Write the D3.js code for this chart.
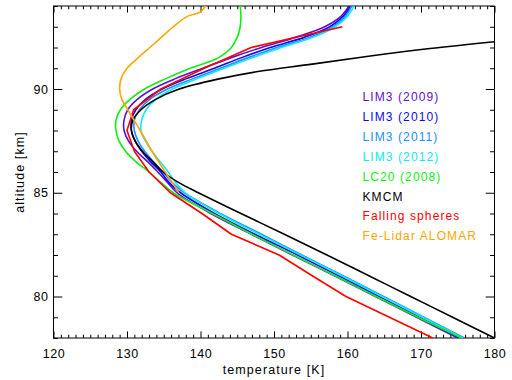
<!DOCTYPE html>
<html>
<head>
<meta charset="utf-8">
<script src="https://cdn.jsdelivr.net/npm/d3@7"></script>
<style>
  body { margin: 0; background: #fff; }
  text { font-family: "Liberation Sans", Arial, sans-serif; }
</style>
</head>
<body>
<div id="body"></div>
<script>
// [altitude km, temperature K]
const lim3_2009 = [[78, 175.0], [79, 169.4], [80, 163.8], [81, 158.2], [82, 152.5], [83, 146.9], [84, 141.4], [85, 136.8], [85.5, 135.5], [86, 134.2], [86.5, 132.8], [87, 131.3], [87.5, 130.2], [88, 129.6], [88.5, 129.6], [89, 130.1], [89.5, 131.4], [90, 133.5], [90.5, 136.6], [91, 140.3], [91.5, 144.1], [92, 148.3], [92.5, 153.0], [93, 156.9], [93.5, 159.1], [94, 160.2]];
const lim3_2010 = [[78, 175.3], [79, 169.8], [80, 164.3], [81, 158.8], [82, 153.2], [83, 147.4], [84, 141.9], [85, 137.3], [85.5, 135.7], [86, 134.6], [86.5, 133.2], [87, 132.0], [87.5, 131.1], [88, 130.6], [88.5, 130.6], [89, 131.2], [89.5, 132.5], [90, 134.8], [90.5, 138.1], [91, 141.9], [91.5, 145.5], [92, 149.5], [92.5, 154.2], [93, 157.6], [93.5, 159.4], [94, 160.4]];
const lim3_2011 = [[78, 175.9], [79, 170.4], [80, 164.9], [81, 159.4], [82, 153.8], [83, 148.3], [84, 142.7], [85, 137.8], [85.5, 136.1], [86, 134.9], [86.5, 133.6], [87, 132.4], [87.5, 131.5], [88, 131.0], [88.5, 131.0], [89, 131.7], [89.5, 133.1], [90, 135.5], [90.5, 139.0], [91, 142.7], [91.5, 146.4], [92, 150.4], [92.5, 154.9], [93, 158.0], [93.5, 159.7], [94, 160.6]];
const lim3_2012 = [[78, 175.7], [79, 170.2], [80, 164.7], [81, 159.2], [82, 153.6], [83, 148.0], [84, 142.5], [85, 137.9], [85.5, 136.6], [86, 135.6], [86.5, 134.5], [87, 133.4], [87.5, 132.5], [88, 131.9], [88.5, 132.0], [89, 132.6], [89.5, 133.9], [90, 136.2], [90.5, 139.6], [91, 143.2], [91.5, 147.0], [92, 151.0], [92.5, 155.4], [93, 158.3], [93.5, 160.0], [94, 160.9]];
const lc20_2008 = [[78, 175.5], [79, 169.6], [80, 163.9], [81, 158.3], [82, 152.6], [83, 147.0], [84, 141.6], [85, 136.3], [85.5, 134.6], [86, 133.0], [86.5, 131.2], [87, 129.8], [87.5, 128.9], [88, 128.5], [88.5, 128.5], [89, 129.1], [89.5, 130.4], [90, 132.4], [90.5, 135.3], [91, 138.6], [91.5, 142.4], [92, 144.2], [92.5, 145.0], [93, 145.4], [93.5, 145.5], [94, 145.4]];
const kmcm = [[78, 180.0], [79, 174.3], [80, 168.6], [81, 162.9], [82, 157.2], [83, 151.4], [84, 145.5], [85, 139.7], [85.5, 137.0], [86, 134.9], [86.5, 133.5], [87, 132.1], [87.5, 131.1], [88, 130.6], [88.5, 130.8], [89, 131.9], [89.5, 133.9], [90, 137.1], [90.5, 142.7], [90.83, 147.6], [91.2, 155.2], [91.59, 163.1], [91.95, 171.2], [92.28, 180.0]];
const fallingSpheres = [[78, 171.6], [79, 165.7], [80, 159.8], [81, 155.2], [82, 150.7], [83, 144.2], [84, 140.2], [85, 135.9], [86, 133.0], [87, 131.0], [88, 130.0], [89, 130.9], [90, 134.6], [91, 140.5], [92, 146.9], [93, 159.3]];
const feLidar = [[85.05, 137.0], [86, 135.2], [87, 133.4], [88, 131.8], [89, 130.1], [89.5, 129.3], [90, 129.0], [90.5, 129.2], [91, 130.0], [91.5, 131.5], [92, 133.1], [92.5, 134.7], [93, 136.3], [93.5, 138.2], [93.72, 140.0], [94.06, 140.8]];

const legendLabels = ['LIM3 (2009)', 'LIM3 (2010)', 'LIM3 (2011)', 'LIM3 (2012)', 'LC20 (2008)', 'KMCM', 'Falling spheres', 'Fe-Lidar ALOMAR'];
const lineColors = ['#5f0fd0', '#0a0af0', '#2090ff', '#10e8ff', '#10ee10', '#000000', '#ff0000', '#ffa500'];
const xTicks = [120, 130, 140, 150, 160, 170, 180];
const yTicks = [80, 85, 90];

const width = 512;
const height = 380;

var x = d3.scaleLinear().domain([120, 180]).range([53.5, 494.5]);
var y = d3.scaleLinear().domain([78, 94]).range([338, 6]);

function makeChart () {
  d3.select('#body')
    .append('svg')
    .attr('width', width)
    .attr('height', height)
    .style('background', '#fff')
    .append('g')
    .attr('id', 'chart');

  d3.select('#chart').append('clipPath')
    .attr('id', 'plotclip')
    .append('rect')
    .attr('x', x(120)).attr('y', y(94))
    .attr('width', x(180) - x(120)).attr('height', y(78) - y(94));
}

function makeAxis () {
  var chart = d3.select('#chart');
  var xMinor = d3.range(121, 180).filter(function(d){ return d % 10 !== 0; });
  var yMinor = d3.range(78, 95).filter(function(d){ return d % 5 !== 0; });

  function style (g) {
    g.select('.domain').remove();
    g.selectAll('line').attr('stroke', '#000').attr('stroke-width', 1);
    g.selectAll('text')
      .attr('fill', '#000')
      .style('font-family', '"Liberation Sans", Arial, sans-serif')
      .style('font-size', '12.5px')
      .style('letter-spacing', '0.6px');
  }

  chart.append('g').attr('transform', 'translate(0,338)')
    .call(d3.axisBottom(x).tickValues(xTicks).tickSize(-6.6).tickPadding(11).tickFormat(d3.format('d'))).call(style);
  chart.append('g').attr('transform', 'translate(0,338)')
    .call(d3.axisBottom(x).tickValues(xMinor).tickSize(-3.3).tickFormat('')).call(style);
  chart.append('g').attr('transform', 'translate(0,6)')
    .call(d3.axisTop(x).tickValues(xTicks).tickSize(-6.6).tickFormat('')).call(style);
  chart.append('g').attr('transform', 'translate(0,6)')
    .call(d3.axisTop(x).tickValues(xMinor).tickSize(-3.3).tickFormat('')).call(style);

  chart.append('g').attr('transform', 'translate(53.5,0)')
    .call(d3.axisLeft(y).tickValues(yTicks).tickSize(-8.8).tickPadding(5).tickFormat(d3.format('d'))).call(style);
  chart.append('g').attr('transform', 'translate(53.5,0)')
    .call(d3.axisLeft(y).tickValues(yMinor).tickSize(-4.4).tickFormat('')).call(style);
  chart.append('g').attr('transform', 'translate(494.5,0)')
    .call(d3.axisRight(y).tickValues(yTicks).tickSize(-8.8).tickFormat('')).call(style);
  chart.append('g').attr('transform', 'translate(494.5,0)')
    .call(d3.axisRight(y).tickValues(yMinor).tickSize(-4.4).tickFormat('')).call(style);

  // frame
  chart.append('rect')
    .attr('x', x(120)).attr('y', y(94))
    .attr('width', x(180) - x(120)).attr('height', y(78) - y(94))
    .attr('fill', 'none').attr('stroke', '#000').attr('stroke-width', 1);

  // axis titles
  chart.append('text')
    .text('temperature [K]')
    .attr('x', (x(120) + x(180)) / 2)
    .attr('y', 374)
    .attr('text-anchor', 'middle')
    .style('font-size', '12.5px')
    .style('letter-spacing', '1.1px');

  chart.append('text')
    .text('altitude [km]')
    .attr('transform', 'translate(23.5,' + (y(78) + y(94)) / 2 + ') rotate(-90)')
    .attr('text-anchor', 'middle')
    .style('font-size', '12.5px')
    .style('letter-spacing', '1.1px');
}

function makeLines () {
  var series = [lim3_2009, lim3_2010, lim3_2011, lim3_2012, lc20_2008, kmcm, fallingSpheres, feLidar];
  var smooth = d3.line()
    .x(function(d){ return x(d[1]); })
    .y(function(d){ return y(d[0]); })
    .curve(d3.curveCatmullRom.alpha(0.5));
  var straight = d3.line()
    .x(function(d){ return x(d[1]); })
    .y(function(d){ return y(d[0]); });

  d3.select('#chart').append('g')
    .attr('clip-path', 'url(#plotclip)')
    .selectAll('path')
    .data(series)
    .enter()
    .append('path')
    .attr('d', function(d, i){ return i === 6 ? straight(d) : smooth(d); })
    .attr('fill', 'none')
    .attr('stroke', function(d, i){ return lineColors[i]; })
    .attr('stroke-width', 1.6)
    .attr('stroke-linejoin', 'round');
}

function insertLegend () {
  d3.select('#chart').append('g')
    .selectAll('text')
    .data(legendLabels)
    .enter()
    .append('text')
    .text(function(d){ return d; })
    .attr('x', 362.5)
    .attr('y', function(d, i){ return 101 + i * 19.9; })
    .attr('fill', function(d, i){ return lineColors[i]; })
    .style('font-size', '12px')
    .style('letter-spacing', '1.1px');
}

makeChart();
makeAxis();
makeLines();
insertLegend();
</script>
</body>
</html>
